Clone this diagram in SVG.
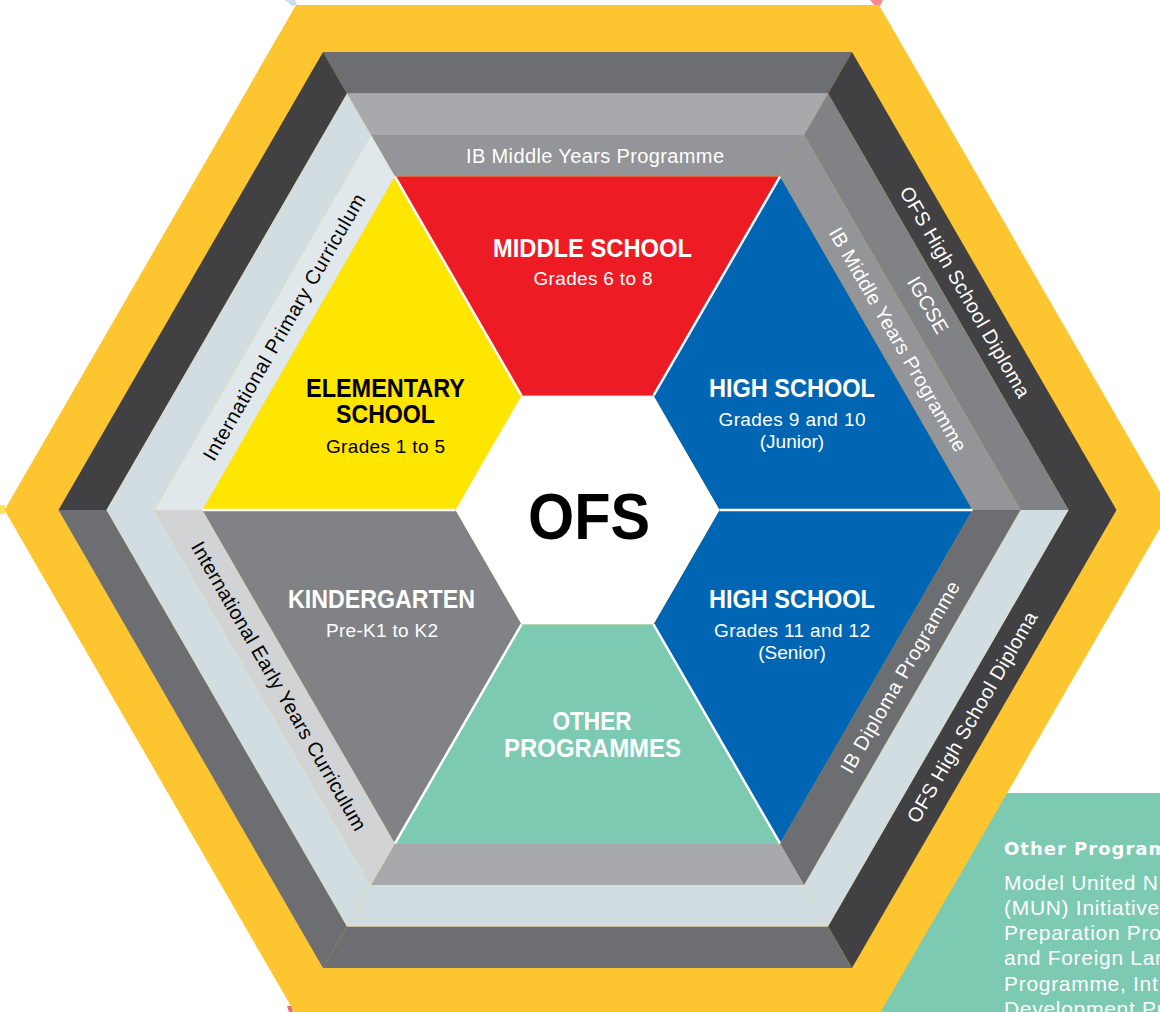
<svg xmlns="http://www.w3.org/2000/svg" width="1160" height="1012" viewBox="0 0 1160 1012">
  <style>
    text { font-family: "Liberation Sans", Arial, Helvetica, sans-serif; }
    .title { font-weight: bold; font-size: 25px; text-anchor: middle; }
    .sub { font-size: 19px; text-anchor: middle; }
    .band { font-size: 20px; text-anchor: middle; }
    .head { font-family: "DejaVu Sans", Verdana, sans-serif; font-size: 18px; font-weight: bold; letter-spacing: 1px; }
    .w { fill: #ffffff; }
    .k { fill: #000000; }
    .sep { stroke: #ffffff; stroke-width: 2.5; fill: none; stroke-linecap: butt; }
  </style>

  <rect width="1160" height="1012" fill="#ffffff"/>

  <!-- neighbouring shapes peeking in at the edges -->
  <g id="edge-fragments">
    <polygon points="285,0 295,0 297,5 292,6" fill="#c9ddef"/>
    <polygon points="870,0 883,0 880,6 875,6" fill="#f28b92"/>
    <rect x="0" y="505" width="5" height="9" fill="#fbe35a"/>
    <polygon points="287,1006 292,1006 293,1012 289,1012" fill="#e96a74"/>
    <polygon points="878,1008 882,1007 883,1012 878,1012" fill="#2a5ea8"/>
  </g>

  <!-- info panel behind the hexagon -->
  <g id="other-programmes-panel">
    <rect x="860" y="793" width="300" height="219" fill="#7ccab1"/>
    <text x="1004" y="855" class="head w">Other Program</text>
    <g class="w" font-size="21" letter-spacing="0.7">
      <text x="1004" y="890">Model United N</text>
      <text x="1004" y="915">(MUN) Initiative</text>
      <text x="1004" y="940">Preparation Prog</text>
      <text x="1004" y="965">and Foreign Lan</text>
      <text x="1004" y="991">Programme, Int</text>
      <text x="1004" y="1016">Development Pr</text>
    </g>
  </g>

  <!-- outer yellow frame -->
  <g id="frame">
    <polygon points="1170.5,510 879,1014.9 296,1014.9 4.5,510 296,5.1 879,5.1" fill="#fdc530"/>
  </g>

  <!-- ring 3 -->
  <g id="ring-3">
    <polygon points="323,51.9 852,51.9 828,93.4 347,93.4" fill="#6d6e71"/>
    <polygon points="852,51.9 1116.5,510 1068.5,510 828,93.4" fill="#414042"/>
    <polygon points="1116.5,510 852,968.1 828,926.6 1068.5,510" fill="#414042"/>
    <polygon points="852,968.1 323,968.1 347,926.6 828,926.6" fill="#6d6e71"/>
    <polygon points="323,968.1 58.5,510 106.5,510 347,926.6" fill="#6d6e71"/>
    <polygon points="58.5,510 323,51.9 347,93.4 106.5,510" fill="#414042"/>
  </g>

  <!-- ring 2 -->
  <g id="ring-2">
    <polygon points="347,93.4 828,93.4 804,135 371,135" fill="#a7a9ac"/>
    <polygon points="828,93.4 1068.5,510 1020.5,510 804,135" fill="#808285"/>
    <polygon points="1068.5,510 828,926.6 804,885 1020.5,510" fill="#d1dde1"/>
    <polygon points="828,926.6 347,926.6 371,885 804,885" fill="#d1dde1"/>
    <polygon points="347,926.6 106.5,510 154.5,510 371,885" fill="#d1dde1"/>
    <polygon points="106.5,510 347,93.4 371,135 154.5,510" fill="#d1dde1"/>
  </g>

  <!-- ring 1 -->
  <g id="ring-1">
    <polygon points="371,135 804,135 780,176.6 395,176.6" fill="#939598"/>
    <polygon points="804,135 1020.5,510 972.5,510 780,176.6" fill="#939598"/>
    <polygon points="1020.5,510 804,885 780,843.4 972.5,510" fill="#6d6e71"/>
    <polygon points="804,885 371,885 395,843.4 780,843.4" fill="#a7a9ac"/>
    <polygon points="371,885 154.5,510 202.5,510 395,843.4" fill="#d1d3d4"/>
    <polygon points="154.5,510 371,135 395,176.6 202.5,510" fill="#e1e8eb"/>
  </g>

  <!-- curriculum labels on the rings -->
  <g id="ib-myp-top">
    <text class="band w" x="595" y="163" textLength="258">IB Middle Years Programme</text>
  </g>
  <g id="ib-myp-side">
    <text class="band w" transform="translate(898,339.5) rotate(60)" y="7" textLength="255">IB Middle Years Programme</text>
  </g>
  <g id="igcse">
    <text class="band w" transform="translate(928,305) rotate(60)" y="7">IGCSE</text>
  </g>
  <g id="ofs-diploma-upper">
    <text class="band w" transform="translate(965,292) rotate(60)" y="7" textLength="240">OFS High School Diploma</text>
  </g>
  <g id="ib-diploma">
    <text class="band w" transform="translate(900,677) rotate(-60)" y="7" textLength="218">IB Diploma Programme</text>
  </g>
  <g id="ofs-diploma-lower">
    <text class="band w" transform="translate(972,717) rotate(-60)" y="7" textLength="240">OFS High School Diploma</text>
  </g>
  <g id="ipc">
    <text class="band k" transform="translate(284,327) rotate(-60)" y="7" textLength="304">International Primary Curriculum</text>
  </g>
  <g id="ieyc">
    <text class="band k" transform="translate(279,686) rotate(60)" y="7" textLength="330">International Early Years Curriculum</text>
  </g>

  <!-- school stages -->
  <g id="middle-school">
    <polygon points="395,176.6 780,176.6 653.5,395.7 521.5,395.7" fill="#ed1c24"/>
    <text class="title w" x="592.5" y="257" textLength="199" lengthAdjust="spacingAndGlyphs">MIDDLE SCHOOL</text>
    <text class="sub w" x="593" y="285" textLength="119">Grades 6 to 8</text>
  </g>
  <g id="high-school-junior">
    <polygon points="780,176.6 972.5,510 719.5,510 653.5,395.7" fill="#0066b3"/>
    <text class="title w" x="792" y="397" textLength="166" lengthAdjust="spacingAndGlyphs">HIGH SCHOOL</text>
    <text class="sub w" x="792" y="426" textLength="147">Grades 9 and 10</text>
    <text class="sub w" x="792" y="448">(Junior)</text>
  </g>
  <g id="high-school-senior">
    <polygon points="972.5,510 780,843.4 653.5,624.3 719.5,510" fill="#0066b3"/>
    <text class="title w" x="792" y="608" textLength="166" lengthAdjust="spacingAndGlyphs">HIGH SCHOOL</text>
    <text class="sub w" x="792" y="637" textLength="156">Grades 11 and 12</text>
    <text class="sub w" x="792" y="659">(Senior)</text>
  </g>
  <g id="other-programmes">
    <polygon points="780,843.4 395,843.4 521.5,624.3 653.5,624.3" fill="#7ccab1"/>
    <text class="title w" x="592" y="730" textLength="79" lengthAdjust="spacingAndGlyphs">OTHER</text>
    <text class="title w" x="592.5" y="757" textLength="177" lengthAdjust="spacingAndGlyphs">PROGRAMMES</text>
  </g>
  <g id="kindergarten">
    <polygon points="395,843.4 202.5,510 455.5,510 521.5,624.3" fill="#808285"/>
    <text class="title w" x="381.5" y="608" textLength="187" lengthAdjust="spacingAndGlyphs">KINDERGARTEN</text>
    <text class="sub w" x="382" y="637" textLength="112">Pre-K1 to K2</text>
  </g>
  <g id="elementary-school">
    <polygon points="202.5,510 395,176.6 521.5,395.7 455.5,510" fill="#ffe600"/>
    <text class="title k" x="385.5" y="397" textLength="159" lengthAdjust="spacingAndGlyphs">ELEMENTARY</text>
    <text class="title k" x="385.5" y="423" textLength="99" lengthAdjust="spacingAndGlyphs">SCHOOL</text>
    <text class="sub k" x="385.5" y="453" textLength="119">Grades 1 to 5</text>
  </g>

  <!-- white dividers between the stages -->
  <g id="connectors">
    <line class="sep" x1="653.5" y1="395.7" x2="780" y2="176.6"/>
    <line class="sep" x1="719.5" y1="510" x2="972.5" y2="510"/>
    <line class="sep" x1="653.5" y1="624.3" x2="780" y2="843.4"/>
    <line class="sep" x1="521.5" y1="624.3" x2="395" y2="843.4"/>
    <line class="sep" x1="455.5" y1="510" x2="202.5" y2="510"/>
    <line class="sep" x1="521.5" y1="395.7" x2="395" y2="176.6"/>
  </g>

  <!-- centre -->
  <g id="ofs-centre">
    <polygon points="719.5,510 653.5,624.3 521.5,624.3 455.5,510 521.5,395.7 653.5,395.7" fill="#ffffff"/>
    <text class="k" x="589" y="539" font-size="64" font-weight="bold" text-anchor="middle" textLength="122" lengthAdjust="spacingAndGlyphs">OFS</text>
  </g>
</svg>
